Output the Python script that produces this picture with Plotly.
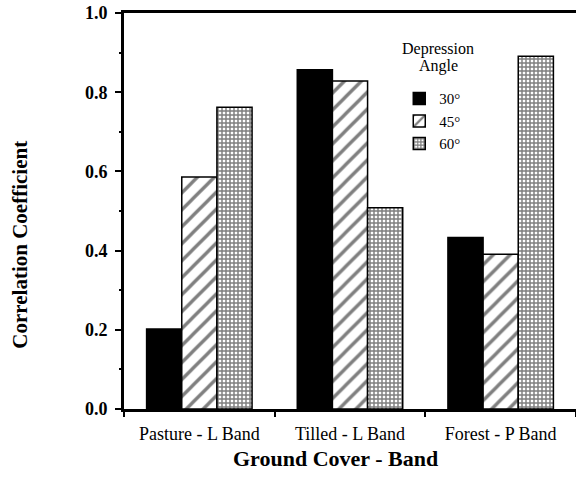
import plotly.graph_objects as go

categories = ["Pasture - L Band", "Tilled - L Band", "Forest - P Band"]
angles = ["30°", "45°", "60°"]
vals_30 = [0.202, 0.857, 0.433]
vals_45 = [0.586, 0.828, 0.391]
vals_60 = [0.762, 0.508, 0.891]

serif = "Liberation Serif"
fig = go.Figure()
styles = [
    dict(color="black", pattern=dict(shape="")),
    dict(color="white", pattern=dict(shape="/", fgcolor="black", bgcolor="white", size=12, solidity=0.28)),
    dict(color="white", pattern=dict(shape="+", fgcolor="black", bgcolor="white", size=4, solidity=0.6)),
]
for name, vals, st in zip(angles, [vals_30, vals_45, vals_60], styles):
    fig.add_trace(go.Bar(
        x=categories, y=vals, name=name,
        marker=dict(color=st["color"], pattern=st["pattern"], line=dict(color="black", width=1.5)),
    ))

fig.update_layout(
    width=576, height=489,
    margin=dict(l=124, r=0, t=13, b=80, autoexpand=False),
    paper_bgcolor="white", plot_bgcolor="white",
    barmode="group", bargap=0.3, bargroupgap=0,
    font=dict(family=serif, color="black"),
    legend=dict(
        x=0.609, y=0.825, xanchor="left", yanchor="top",
        font=dict(size=15, family=serif), bgcolor="rgba(0,0,0,0)",
        itemwidth=30, tracegroupgap=0,
    ),
    xaxis=dict(
        showline=True, linecolor="black", linewidth=3, mirror=True,
        ticks="outside", tickson="boundaries", ticklen=5, tickwidth=2, tickcolor="black",
        tickfont=dict(size=18, family=serif), ticklabelstandoff=6,
        showgrid=False, automargin=False,
    ),
    yaxis=dict(
        range=[0, 1.0], tickvals=[0, 0.2, 0.4, 0.6, 0.8, 1.0],
        ticktext=["<b>0.0</b>", "<b>0.2</b>", "<b>0.4</b>", "<b>0.6</b>", "<b>0.8</b>", "<b>1.0</b>"],
        showline=True, linecolor="black", linewidth=3,
        ticks="outside", ticklen=6, tickwidth=2, tickcolor="black",
        minor=dict(tickvals=[0.1, 0.3, 0.5, 0.7, 0.9], ticks="outside", ticklen=2, tickwidth=2, tickcolor="black"),
        tickfont=dict(size=18, family=serif), ticklabelstandoff=4,
        showgrid=False, zeroline=False, automargin=False,
    ),
    annotations=[
        dict(text="<b>Correlation Coefficient</b>", xref="paper", yref="paper", x=0, xshift=-104,
             y=0.415, textangle=-90, showarrow=False, xanchor="center", yanchor="middle",
             font=dict(size=21, family=serif)),
        dict(text="<b>Ground Cover - Band</b>", xref="paper", yref="paper", x=0.467, y=0, yshift=-49,
             showarrow=False, xanchor="center", yanchor="middle", font=dict(size=22, family=serif)),
        dict(text="Depression", xref="paper", yref="paper", x=0.695, y=0.909,
             showarrow=False, xanchor="center", yanchor="middle", font=dict(size=16, family=serif)),
        dict(text="Angle", xref="paper", yref="paper", x=0.695, y=0.867,
             showarrow=False, xanchor="center", yanchor="middle", font=dict(size=16, family=serif)),
    ],
)

fig.write_html("out.html", config={"displayModeBar": False},
               post_script="document.body.style.margin='0';")
